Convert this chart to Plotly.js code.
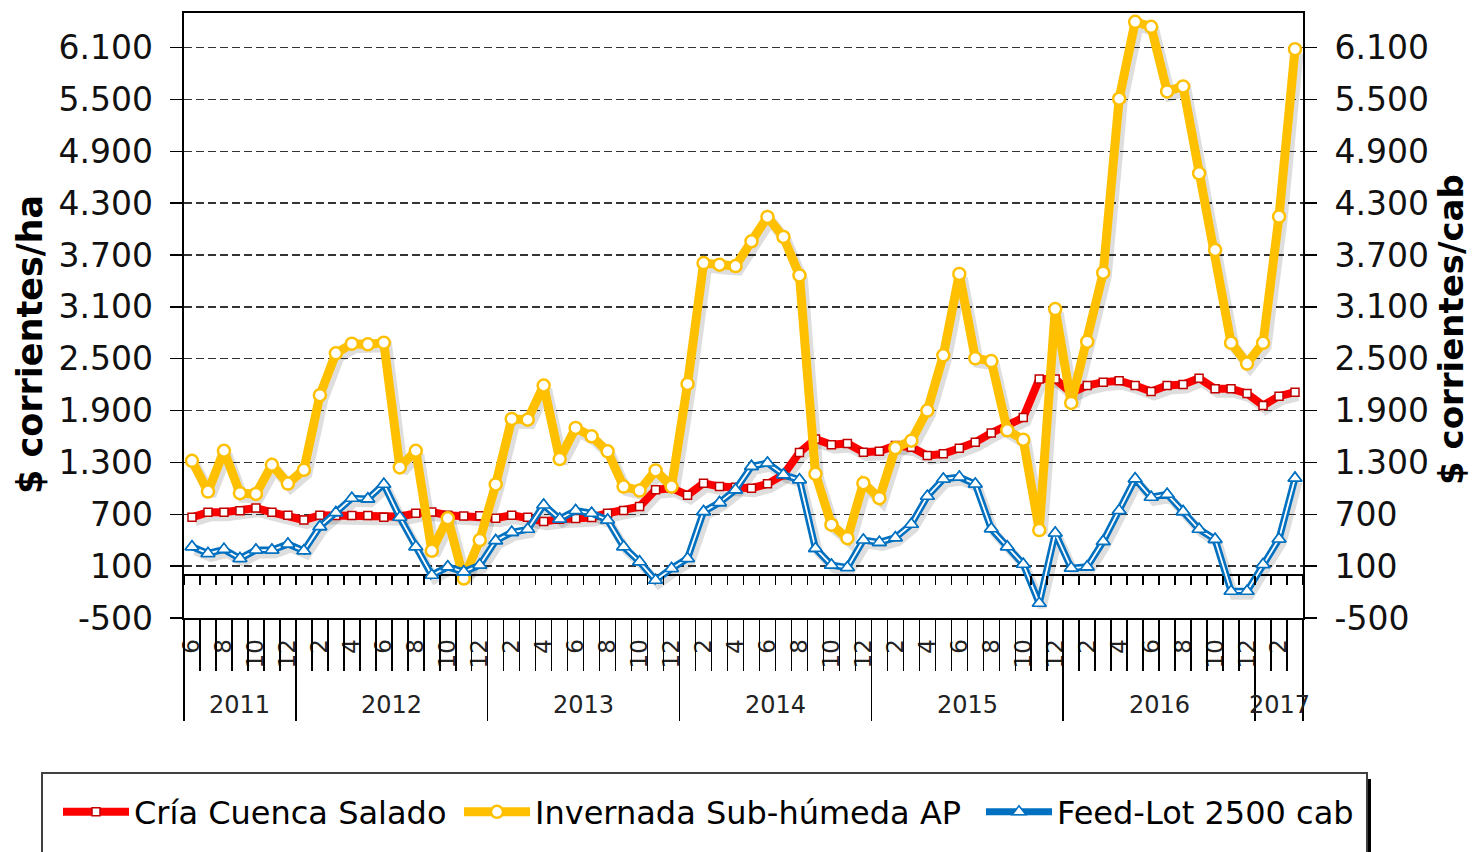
<!DOCTYPE html>
<html>
<head>
<meta charset="utf-8">
<script src="https://cdn.plot.ly/plotly-3.0.1.min.js"></script>
<style>html,body{margin:0;padding:0;background:#fff}#chart{width:1473px;height:852px}</style>
</head>
<body>
<div id="chart"></div>
<script>
// ---- DATA ----
const months = [6,7,8,9,10,11,12,
  1,2,3,4,5,6,7,8,9,10,11,12,
  1,2,3,4,5,6,7,8,9,10,11,12,
  1,2,3,4,5,6,7,8,9,10,11,12,
  1,2,3,4,5,6,7,8,9,10,11,12,
  1,2,3,4,5,6,7,8,9,10,11,12,
  1,2,3];
const startYear = 2011;

const cria = [665,723,723,741,773,723,688,
  634,688,686,686,686,665,673,712,725,690,681,683,654,
  690,665,617,642,652,663,712,743,789,983,1002,921,
  1060,1021,1014,1002,1052,1157,1416,1571,1505,1520,1418,1430,
  1495,1476,1379,1399,1463,1534,1641,1728,1819,2264,2264,2105,
  2190,2229,2245,2190,2121,2190,2202,2275,2152,2152,2097,1958,
  2067,2113];

const invernada = [1319,963,1435,944,936,1273,1056,
  1215,2078,2562,2674,2666,2686,1242,1435,278,654,-43,402,1045,
  1803,1795,2190,1339,1699,1602,1428,1021,975,1207,1021,2208,
  3607,3588,3572,3859,4141,3909,3464,1168,580,423,1060,886,
  1466,1552,1900,2539,3481,2504,2473,1672,1563,518,3075,1989,
  2697,3495,5508,6398,6340,5593,5651,4645,3758,2684,2444,2684,
  4145,6081];

const feedlot = [324,247,294,189,286,286,355,
  278,557,719,886,878,1048,665,324,-5,92,34,112,395,
  491,526,808,646,743,712,634,324,150,-63,73,189,
  731,835,983,1254,1293,1157,1099,305,112,85,402,375,
  429,584,909,1108,1130,1050,532,324,122,-330,483,77,
  92,386,743,1110,897,932,731,526,410,-190,-190,119,
  414,1118];

const seriesNames = ['Cría Cuenca Salado','Invernada Sub-húmeda AP','Feed-Lot 2500 cab'];
const yTickVals = [-500,100,700,1300,1900,2500,3100,3700,4300,4900,5500,6100];
const yTickText = ['-500','100','700','1.300','1.900','2.500','3.100','3.700','4.300','4.900','5.500','6.100'];
const yRange = [-500, 6500];
const leftTitle = '$ corrientes/ha';
const rightTitle = '$ corrientes/cab';

// ---- DERIVED CATEGORY STRUCTURE ----
const n = months.length;
const idx = months.map((m, i) => i);
const years = [];
let cy = startYear;
months.forEach((m, i) => { if (i > 0 && m === 1) cy++; years.push(cy); });
const labelVals = idx.filter(i => months[i] % 2 === 0);
const labelText = labelVals.map(i => String(months[i]));
const boundaries = idx.map(i => i - 0.5).concat([n - 0.5]);
const yearStarts = idx.filter(i => i === 0 || months[i] === 1);
const yearBounds = yearStarts.map(i => i - 0.5).concat([n - 0.5]);
const yearGroups = yearStarts.map((s, k) => {
  const e = k + 1 < yearStarts.length ? yearStarts[k + 1] - 1 : n - 1;
  return { year: String(years[s]), center: (s + e) / 2 };
});
const xRange = [-0.5, n - 0.5];
const zeroFrac = (0 - yRange[0]) / (yRange[1] - yRange[0]);

// ---- STYLE / GEOMETRY ----
const FONT = 'DejaVu Sans, Verdana, sans-serif';
const RED = '#FF0000', YEL = '#FFC000', BLUE = '#0070C0';
const plotL = 184, plotR = 1303, plotT = 13, plotB = 618;
const px2x = p => (p - plotL) / (plotR - plotL);
const px2y = p => (plotB - p) / (plotB - plotT);
// drop-shadow offset (pixels) converted to axis units
const shadowDxPx = 3, shadowDyPx = 4;
const sdx = shadowDxPx * (xRange[1] - xRange[0]) / (plotR - plotL);
const sdy = shadowDyPx * (yRange[1] - yRange[0]) / (plotB - plotT);
const SHADOW = 'rgba(0,0,0,0.13)';

const triMarker = { symbol: 'triangle-up', size: 12, color: '#ffffff', line: { color: BLUE, width: 1.6 } };

const traces = [];
// shadows on the (hidden) shifted main axes, drawn below everything
[[cria, 10], [invernada, 11], [feedlot, 9]].forEach(([ys, w]) => traces.push({
  x: idx, y: ys, xaxis: 'x', yaxis: 'y', mode: 'lines', showlegend: false, hoverinfo: 'skip',
  line: { color: SHADOW, width: w }
}));
// data series on the visible axes
traces.push(
  { x: idx, y: cria, name: seriesNames[0], legend: 'legend', mode: 'lines+markers', xaxis: 'x2', yaxis: 'y2',
    line: { color: RED, width: 8 },
    marker: { symbol: 'square', size: 8, color: '#ffffff', line: { color: '#C00000', width: 1.5 } } },
  { x: idx, y: invernada, name: seriesNames[1], legend: 'legend2', mode: 'lines+markers', xaxis: 'x2', yaxis: 'y2',
    line: { color: YEL, width: 9 },
    marker: { symbol: 'circle', size: 12, color: '#ffffff', line: { color: YEL, width: 2.5 } } },
  { x: idx, y: feedlot, name: seriesNames[2], legend: 'legend3', mode: 'lines+markers', xaxis: 'x2', yaxis: 'y2',
    line: { color: BLUE, width: 7 }, marker: triMarker },
  { x: idx, y: feedlot, mode: 'lines', xaxis: 'x2', yaxis: 'y2', showlegend: false, hoverinfo: 'skip',
    line: { color: '#ffffff', width: 1.8 } },
  { x: idx, y: feedlot, mode: 'markers', xaxis: 'x2', yaxis: 'y2', showlegend: false, hoverinfo: 'skip', marker: triMarker }
);
// empty traces so every decoration axis is drawn
[['x3', 'y2'], ['x4', 'y2'], ['x5', 'y2'], ['x2', 'y3']].forEach(([xa, ya]) => traces.push({
  x: [null], y: [null], xaxis: xa, yaxis: ya, mode: 'markers', showlegend: false, hoverinfo: 'skip'
}));

const annotations = yearGroups.map(g => ({
  x: g.center, xref: 'x2', y: px2y(705), yref: 'paper', text: g.year, showarrow: false,
  xanchor: 'center', yanchor: 'middle', font: { family: FONT, size: 24, color: '#222' }
}));
annotations.push({
  x: px2x(30), xref: 'paper', y: px2y(345), yref: 'paper', text: '<b>' + leftTitle + '</b>',
  textangle: -90, showarrow: false, xanchor: 'center', yanchor: 'middle',
  font: { family: FONT, size: 35, color: '#000' }
});
annotations.push({
  x: px2x(1451), xref: 'paper', y: px2y(330), yref: 'paper', text: '<b>' + rightTitle + '</b>',
  textangle: -90, showarrow: false, xanchor: 'center', yanchor: 'middle',
  font: { family: FONT, size: 34, color: '#000' }
});

const shapes = [
  { type: 'rect', xref: 'paper', yref: 'paper', layer: 'below',
    x0: px2x(46), x1: px2x(1371), y0: px2y(779), y1: px2y(900),
    fillcolor: '#000', line: { width: 0 } },
  { type: 'rect', xref: 'paper', yref: 'paper', layer: 'below',
    x0: px2x(42), x1: px2x(1367), y0: px2y(773), y1: px2y(900),
    fillcolor: '#fff', line: { color: '#404040', width: 2 } }
];

const axX = { range: xRange, fixedrange: true, showgrid: false, zeroline: false };
const legendBase = {
  orientation: 'h', xanchor: 'left', y: px2y(812), yanchor: 'middle',
  bgcolor: 'rgba(0,0,0,0)', borderwidth: 0, itemwidth: 66,
  font: { family: FONT, size: 32, color: '#000' }
};

const layout = {
  width: 1473, height: 852,
  margin: { l: plotL, r: 1473 - plotR, t: plotT, b: 852 - plotB, pad: 0, autoexpand: false },
  paper_bgcolor: '#ffffff', plot_bgcolor: '#ffffff',
  font: { family: FONT, color: '#000' },
  showlegend: true,
  // hidden, slightly shifted axes carrying the drop shadows
  xaxis: { range: [xRange[0] - sdx, xRange[1] - sdx], visible: false, fixedrange: true },
  yaxis: { range: [yRange[0] + sdy, yRange[1] + sdy], visible: false, fixedrange: true },
  // visible category axis with month labels
  xaxis2: Object.assign({}, axX, {
    overlaying: 'x', anchor: 'y2', tickvals: labelVals, ticktext: labelText, tickangle: -90, ticks: '',
    showline: true, mirror: true, linecolor: '#000', linewidth: 2,
    tickfont: { family: FONT, size: 23, color: '#222' }, ticklabelstandoff: 10
  }),
  // month separator ticks
  xaxis3: Object.assign({}, axX, {
    overlaying: 'x', anchor: 'y2', tickvals: boundaries, ticks: 'outside', ticklen: 52,
    tickwidth: 1.5, tickcolor: '#000', showticklabels: false, showline: false
  }),
  // year separator ticks
  xaxis4: Object.assign({}, axX, {
    overlaying: 'x', anchor: 'y2', tickvals: yearBounds, ticks: 'outside', ticklen: 102,
    tickwidth: 1.5, tickcolor: '#000', showticklabels: false, showline: false
  }),
  // small ticks along the zero line
  xaxis5: Object.assign({}, axX, {
    overlaying: 'x', anchor: 'free', position: zeroFrac, tickvals: boundaries, ticks: 'outside',
    ticklen: 9, tickwidth: 1.5, tickcolor: '#000', showticklabels: false, showline: false
  }),
  yaxis2: {
    overlaying: 'y', side: 'left', anchor: 'x2', range: yRange, fixedrange: true,
    tickvals: yTickVals, ticktext: yTickText,
    ticks: 'outside', ticklen: 12, tickwidth: 1.5, tickcolor: '#000',
    showgrid: true, gridcolor: '#333', griddash: '8px,4px', gridwidth: 1.3,
    zeroline: true, zerolinecolor: '#000', zerolinewidth: 2,
    showline: true, linecolor: '#000', linewidth: 2.5,
    tickfont: { family: FONT, size: 33, color: '#111' }, ticklabelstandoff: 10
  },
  yaxis3: {
    overlaying: 'y', side: 'right', anchor: 'x2', range: yRange, fixedrange: true,
    tickvals: yTickVals, ticktext: yTickText, ticks: 'outside', ticklen: 12, tickwidth: 1.5,
    tickcolor: '#000', showgrid: false, zeroline: false, showline: true, linecolor: '#000',
    linewidth: 2, tickfont: { family: FONT, size: 33, color: '#111' }, ticklabelstandoff: 11
  },
  legend: Object.assign({}, legendBase, { x: px2x(58) }),
  legend2: Object.assign({}, legendBase, { x: px2x(459) }),
  legend3: Object.assign({}, legendBase, { x: px2x(981) }),
  annotations: annotations,
  shapes: shapes
};

Plotly.newPlot('chart', traces, layout, { staticPlot: true, displayModeBar: false });
</script>
</body>
</html>
